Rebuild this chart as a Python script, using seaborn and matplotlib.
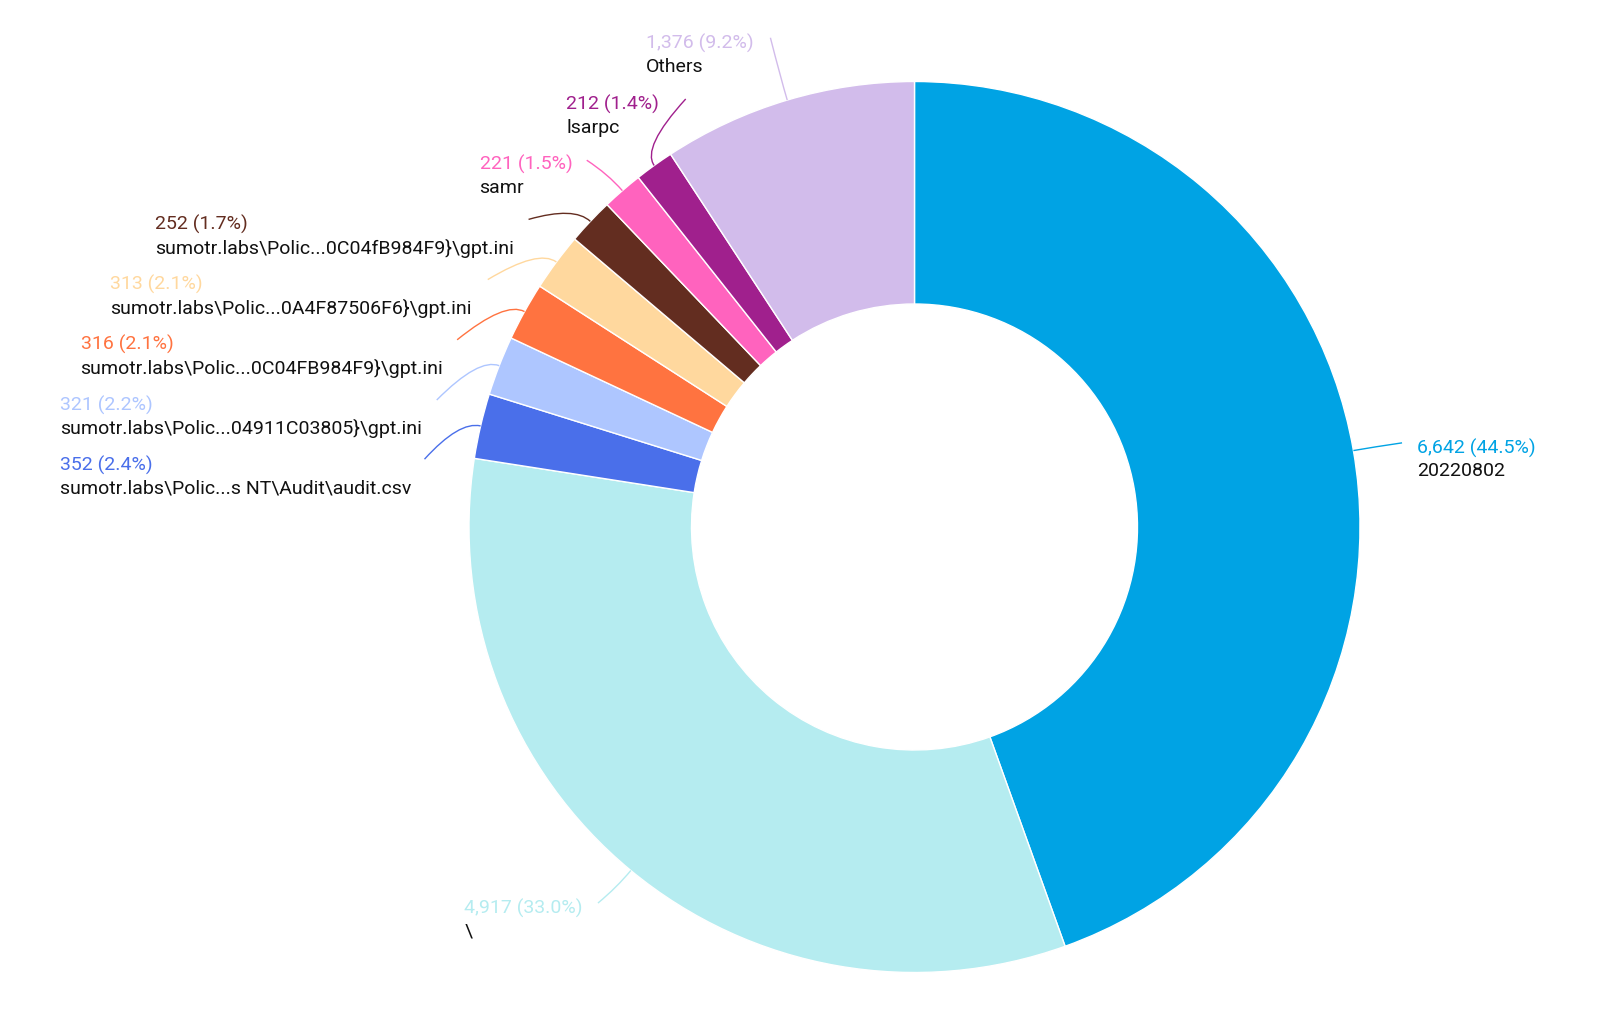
import numpy as np
import matplotlib
matplotlib.use("Agg")
import matplotlib.pyplot as plt
import seaborn as sns
from matplotlib.path import Path
from matplotlib.patches import PathPatch

# data
names = ["20220802", "\\", "sumotr.labs\\Polic...s NT\\Audit\\audit.csv",
         "sumotr.labs\\Polic...04911C03805}\\gpt.ini",
         "sumotr.labs\\Polic...0C04FB984F9}\\gpt.ini",
         "sumotr.labs\\Polic...0A4F87506F6}\\gpt.ini",
         "sumotr.labs\\Polic...0C04fB984F9}\\gpt.ini",
         "samr", "lsarpc", "Others"]
counts = [6642, 4917, 352, 321, 316, 313, 252, 221, 212, 1376]
colors = ["#00A3E4", "#B5ECF0", "#4A6FEA", "#AEC6FF", "#FF7340",
          "#FFD89E", "#632D20", "#FF63BE", "#A0208D", "#D2BCEB"]

# label layout, pixel coords (text left x, value-line y, leader end x, y)
label_pos = [(1389, 439, 1374, 434), (455, 890, 586, 885), (59, 456, 416, 450),
             (59, 397, 428, 392), (79, 338, 448, 333), (108, 279, 478, 274),
             (152, 220, 518, 215), (470, 161, 575, 157), (555, 102, 672, 97),
             (633, 43, 755, 37)]
S = 1600 / 1568

sns.set_theme(style="white")
plt.rcParams['font.family'] = ['Roboto', 'DejaVu Sans']

W, H = 1600, 1018
fig = plt.figure(figsize=(16, 10.18), dpi=100)
ax = fig.add_axes([0, 0, 1, 1])

cx, cy = 914.5, H - 527
R, r = 445.5, 223
wedges, _ = ax.pie(counts, colors=colors, startangle=90, counterclock=False,
                   radius=R, center=(cx, cy), frame=True,
                   wedgeprops=dict(width=R - r, edgecolor='white', linewidth=1))
ax.set_xlim(0, W)
ax.set_ylim(0, H)
ax.axis('off')

total = sum(counts)
for w, n, c, col, pos in zip(wedges, names, counts, colors, label_pos):
    tx, ty, ex, ey = [v * S for v in pos]
    mid = np.deg2rad((w.theta1 + w.theta2) / 2)
    p0 = (cx + R * np.cos(mid), cy + R * np.sin(mid))
    p1 = (cx + (R + 22) * np.cos(mid), cy + (R + 22) * np.sin(mid))
    p2 = (ex, H - ey)
    path = Path([p0, p1, p2], [Path.MOVETO, Path.CURVE3, Path.CURVE3])
    ax.add_patch(PathPatch(path, fc='none', ec=col, lw=1))
    ax.text(tx, H - ty, f"{c:,} ({c / total * 100:.1f}%)", color=col,
            fontsize=14, ha='left', va='center')
    ax.text(tx, H - ty - 23.5, n, color='#111111', fontsize=14, ha='left', va='center')

fig.savefig("out.png", dpi=100)
